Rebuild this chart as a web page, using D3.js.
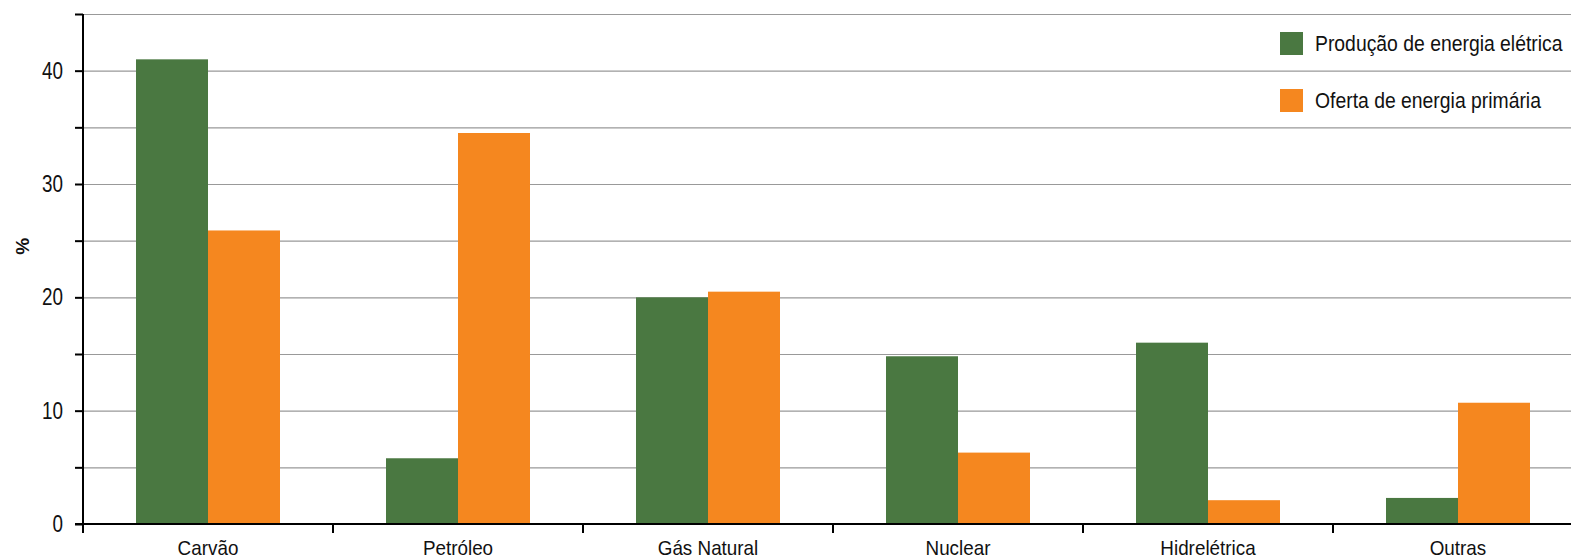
<!DOCTYPE html>
<html>
<head>
<meta charset="utf-8">
<script src="https://cdn.jsdelivr.net/npm/d3@7"></script>
<style>
  html, body { margin: 0; padding: 0; background: #fff; }
  svg { display: block; font-family: "Liberation Sans", Arial, sans-serif; }
</style>
</head>
<body>
<svg id="chart" width="1571" height="560"></svg>
<script>
// Fontes de energia: participação (%) na produção elétrica e na oferta primária
const categories = ["Carvão", "Petróleo", "Gás Natural", "Nuclear", "Hidrelétrica", "Outras"];
const seriesNames = ["Produção de energia elétrica", "Oferta de energia primária"];
const producaoEletrica = [41, 5.8, 20.0, 14.8, 16.0, 2.3];
const ofertaPrimaria = [25.9, 34.5, 20.5, 6.3, 2.1, 10.7];
const yTicks = [0, 5, 10, 15, 20, 25, 30, 35, 40, 45];
const yTickLabels = ["0", "", "10", "", "20", "", "30", "", "40", ""];
const colors = ["#4a7841", "#f5871f"];

const svg = d3.select("#chart");
const margin = { left: 83, top: 14, bottom: 36 };
const bandStep = 250;
const height = 560;

const x = d3.scaleBand().domain(categories)
  .range([margin.left, margin.left + bandStep * categories.length]).padding(0);
const inner = d3.scaleBand().domain([0, 1]).range([0, 144]);
const y = d3.scaleLinear().domain([0, 45]).range([height - margin.bottom, margin.top]);

// condensed text helper (narrow sans look)
function narrowText(sel, px, py, size, sx, anchor) {
  return sel.append("text")
    .attr("transform", `translate(${px},${py}) scale(${sx},1)`)
    .attr("font-size", size)
    .attr("text-anchor", anchor)
    .attr("fill", "#111");
}

// grid lines
svg.append("g")
  .selectAll("line")
  .data(yTicks.filter(d => d > 0))
  .join("line")
  .attr("x1", margin.left).attr("x2", 1571)
  .attr("y1", d => y(d) + 0.5).attr("y2", d => y(d) + 0.5)
  .attr("stroke", "#999").attr("stroke-width", 1.2);

// bars
const rows = categories.map((c, i) => ({ c, v: [producaoEletrica[i], ofertaPrimaria[i]] }));
const groups = svg.append("g").selectAll("g").data(rows).join("g")
  .attr("transform", d => `translate(${x(d.c) + (x.bandwidth() - 144) / 2},0)`);
groups.selectAll("rect")
  .data(d => d.v.map((v, k) => ({ v, k })))
  .join("rect")
  .attr("x", d => inner(d.k))
  .attr("width", inner.bandwidth())
  .attr("y", d => y(d.v))
  .attr("height", d => y(0) - y(d.v))
  .attr("fill", d => colors[d.k]);

// y axis
const yAxis = svg.append("g")
  .attr("transform", `translate(${margin.left},0)`)
  .call(d3.axisLeft(y).tickValues(yTicks).tickFormat("").tickSize(8));
yAxis.select(".domain").attr("stroke", "#000").attr("stroke-width", 2)
  .attr("d", `M0,${y(45)}V${y(0) + 9}`);
yAxis.selectAll(".tick line").attr("stroke", "#000").attr("stroke-width", 2);
yAxis.selectAll(".tick text").remove();
yTicks.forEach((t, i) => {
  if (!yTickLabels[i]) return;
  narrowText(svg, 63, y(t) + 8, 23, 0.82, "end").text(yTickLabels[i]);
});

// x axis
const xAxisG = svg.append("g").attr("transform", `translate(0,${y(0)})`);
xAxisG.append("line").attr("x1", margin.left - 8).attr("x2", 1571).attr("y1", 0).attr("y2", 0)
  .attr("stroke", "#000").attr("stroke-width", 2);
xAxisG.selectAll("line.sep")
  .data(categories.slice(1))
  .join("line").attr("class", "sep")
  .attr("x1", d => x(d)).attr("x2", d => x(d))
  .attr("y1", 0).attr("y2", 9)
  .attr("stroke", "#000").attr("stroke-width", 2);
categories.forEach(c => {
  narrowText(xAxisG, x(c) + x.bandwidth() / 2, 31, 20.5, 0.92, "middle").text(c);
});

// y axis title
svg.append("text")
  .attr("transform", `translate(29,${y(24.5)}) rotate(-90)`)
  .attr("text-anchor", "middle")
  .attr("font-size", 19)
  .attr("font-weight", "bold")
  .attr("fill", "#111")
  .text("%");

// legend
const legend = svg.append("g").attr("transform", "translate(1280,32)");
const li = legend.selectAll("g").data(seriesNames).join("g")
  .attr("transform", (d, i) => `translate(0,${i * 57})`);
li.append("rect").attr("width", 23).attr("height", 23).attr("fill", (d, i) => colors[i]);
li.each(function (d) {
  narrowText(d3.select(this), 35, 19, 22, 0.88, "start").text(d);
});
</script>
</body>
</html>
